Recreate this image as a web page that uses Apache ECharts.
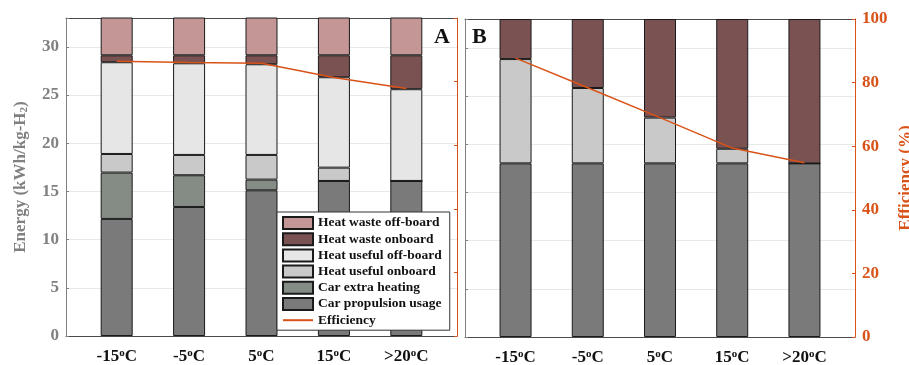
<!DOCTYPE html>
<html>
<head>
<meta charset="utf-8">
<script src="https://cdn.jsdelivr.net/npm/echarts@6/dist/echarts.min.js"></script>
<style>
html,body{margin:0;padding:0;background:#fff;}
#chart{width:909px;height:365px;}
</style>
</head>
<body>
<div id="chart"></div>
<script>
// ---------- data ----------
const categories = ['-15°C', '-5°C', '5°C', '15°C', '>20°C'];
const energyTicks = [0, 5, 10, 15, 20, 25, 30];
const efficiencyTicks = [0, 20, 40, 60, 80, 100];

// Panel A (kWh/kg-H2), stacked from bottom to top
const aPropulsion   = [12.15, 13.39, 15.12, 16.09, 16.09];
const aExtraHeating = [4.81, 3.29, 1.11, 0, 0];
const aUsefulOn     = [1.93, 2.11, 2.56, 1.38, 0];
const aUsefulOff    = [9.52, 9.51, 9.41, 9.38, 9.52];
const aWasteOn      = [0.72, 0.83, 0.93, 2.28, 3.52];
const aWasteOff     = [4.17, 4.17, 4.17, 4.17, 4.17];
const aEfficiency   = [86.4, 86.0, 85.8, 81.3, 77.8];

// Panel B (%), stacked from bottom to top
const bPropulsion   = [54.6, 54.6, 54.6, 54.6, 54.6];
const bUsefulOn     = [32.8, 23.7, 14.4, 4.6, 0];
const bWasteOn      = [12.6, 21.7, 31.0, 40.8, 45.4];
const bEfficiency   = [87.7, 78.4, 69.0, 59.4, 54.8];

// ---------- layout & styles ----------
const FONT = '"Liberation Serif", "Times New Roman", serif';
const ORANGE = '#D95319';
const GRAYAX = '#808080';
const DARKAX = '#4a4a4a';
const colors = {
  'Heat waste off-board': '#c49696',
  'Heat waste onboard': '#7b5252',
  'Heat useful off-board': '#e6e6e6',
  'Heat useful onboard': '#c9c9c9',
  'Car extra heating': '#858c85',
  'Car propulsion usage': '#7a7a7a'
};
const X_MIN = 0.3, X_MAX = 5.7;
const positions = categories.map((c, i) => i + 1);
const frames = [
  { left: 66, top: 18, width: 391, height: 318, outerBoundsMode: 'none', containLabel: false },
  { left: 465, top: 19, width: 390, height: 318, outerBoundsMode: 'none', containLabel: false }
];
// inner grid holding the category bands (band i centred on position i+1)
function bandGrid(f) {
  const unit = f.width / (X_MAX - X_MIN);
  return {
    left: f.left + (0.5 - X_MIN) * unit, top: f.top, width: categories.length * unit, height: f.height,
    outerBoundsMode: 'none', containLabel: false
  };
}

function xFrame(gi, pos, showLabels) {
  return {
    type: 'value', gridIndex: gi, position: pos, min: X_MIN, max: X_MAX,
    axisLine: { show: true, onZero: false, lineStyle: { color: DARKAX, width: 1 } },
    axisTick: { show: true, inside: true, length: 3, customValues: positions, lineStyle: { color: DARKAX } },
    axisLabel: {
      show: showLabels, customValues: positions, margin: 12,
      formatter: v => {
        const c = categories[Math.round(v) - 1] || '';
        return '{m|' + c.replace('°', '}{s|o}{m|') + '}';
      },
      rich: {
        m: { fontFamily: FONT, fontWeight: 'bold', fontSize: 17, color: '#111', lineHeight: 18 },
        s: { fontFamily: FONT, fontWeight: 'bold', fontSize: 11, color: '#111', verticalAlign: 'top', lineHeight: 18 }
      }
    },
    splitLine: { show: false }
  };
}
function xBands(gi) {
  return { type: 'category', gridIndex: gi, data: categories, boundaryGap: true, show: false };
}
function energyAxis(gi, showLabels) {
  return {
    type: 'value', gridIndex: gi, position: 'left', min: 0, max: 33, interval: 5,
    name: showLabels ? 'Energy (kWh/kg-H{sub|2})' : '',
    nameLocation: 'middle', nameGap: 36,
    nameTextStyle: {
      fontFamily: FONT, fontWeight: 'bold', fontSize: 17, color: GRAYAX,
      rich: { sub: { fontFamily: FONT, fontWeight: 'bold', fontSize: 11, color: GRAYAX, verticalAlign: 'bottom', padding: [8, 0, 0, 0] } }
    },
    axisLine: { show: true, onZero: false, lineStyle: { color: GRAYAX, width: 1 } },
    axisTick: { show: true, inside: true, length: 3, lineStyle: { color: GRAYAX } },
    axisLabel: {
      show: showLabels, margin: 7, customValues: energyTicks,
      fontFamily: FONT, fontWeight: 'bold', fontSize: 17, color: GRAYAX
    },
    splitLine: { show: true, lineStyle: { color: '#e8e8e8', width: 1 } }
  };
}
function effAxis(gi, showLabels) {
  return {
    type: 'value', gridIndex: gi, position: 'right', min: 0, max: 100, interval: 20,
    name: showLabels ? 'Efficiency (%)' : '',
    nameLocation: 'middle', nameGap: 42,
    nameTextStyle: { fontFamily: FONT, fontWeight: 'bold', fontSize: 17, color: ORANGE },
    axisLine: { show: true, onZero: false, lineStyle: { color: ORANGE, width: 1 } },
    axisTick: { show: true, inside: true, length: 3, lineStyle: { color: ORANGE } },
    axisLabel: {
      show: showLabels, margin: 7, customValues: efficiencyTicks,
      fontFamily: FONT, fontWeight: 'bold', fontSize: 17, color: ORANGE
    },
    splitLine: { show: false }
  };
}
function hiddenY(gi, max) {
  return { type: 'value', gridIndex: gi, min: 0, max: max, show: false, splitLine: { show: false } };
}
function bar(name, arr, xi, yi, stack) {
  return {
    type: 'bar', name, data: arr, xAxisIndex: xi, yAxisIndex: yi, stack,
    barWidth: 32, clip: true,
    itemStyle: { color: colors[name], borderColor: '#1a1a1a', borderWidth: 1 },
    emphasis: { disabled: true }
  };
}
function effLine(arr, xi, yi) {
  return {
    type: 'line', name: 'Efficiency', data: arr, xAxisIndex: xi, yAxisIndex: yi,
    symbol: 'none', z: 5,
    lineStyle: { color: ORANGE, width: 1.5 }, itemStyle: { color: ORANGE },
    emphasis: { disabled: true }
  };
}

const legendBars = ['Heat waste off-board', 'Heat waste onboard', 'Heat useful off-board',
                    'Heat useful onboard', 'Car extra heating', 'Car propulsion usage'];

const option = {
  animation: false,
  backgroundColor: '#fff',
  grid: [frames[0], bandGrid(frames[0]), frames[1], bandGrid(frames[1])],
  xAxis: [
    xFrame(0, 'bottom', true), xFrame(0, 'top', false), xBands(1),
    xFrame(2, 'bottom', true), xFrame(2, 'top', false), xBands(3)
  ],
  yAxis: [
    energyAxis(0, true), effAxis(0, false), hiddenY(1, 33), hiddenY(1, 100),
    energyAxis(2, false), effAxis(2, true), hiddenY(3, 100)
  ],
  legend: {
    orient: 'vertical', left: 277, top: 212,
    padding: [4, 8, 3, 5],
    backgroundColor: '#fff', borderColor: '#333', borderWidth: 1,
    itemWidth: 30, itemHeight: 12, itemGap: 2.2,
    textStyle: { fontFamily: FONT, fontWeight: 'bold', fontSize: 13.5, color: '#111' },
    data: legendBars.map(n => ({ name: n, icon: 'rect' }))
      .concat([{ name: 'Efficiency', itemStyle: { opacity: 0 } }])
  },
  graphic: [
    { type: 'text', left: 434, top: 26, style: { text: 'A', font: 'bold 22px ' + FONT, fill: '#111' } },
    { type: 'text', left: 472, top: 26, style: { text: 'B', font: 'bold 22px ' + FONT, fill: '#111' } }
  ],
  series: [
    bar('Car propulsion usage', aPropulsion, 2, 2, 'A'),
    bar('Car extra heating', aExtraHeating, 2, 2, 'A'),
    bar('Heat useful onboard', aUsefulOn, 2, 2, 'A'),
    bar('Heat useful off-board', aUsefulOff, 2, 2, 'A'),
    bar('Heat waste onboard', aWasteOn, 2, 2, 'A'),
    bar('Heat waste off-board', aWasteOff, 2, 2, 'A'),
    effLine(aEfficiency, 2, 3),
    bar('Car propulsion usage', bPropulsion, 5, 6, 'B'),
    bar('Heat useful onboard', bUsefulOn, 5, 6, 'B'),
    bar('Heat waste onboard', bWasteOn, 5, 6, 'B'),
    effLine(bEfficiency, 5, 6)
  ]
};
const chart = echarts.init(document.getElementById('chart'), null, { renderer: 'canvas' });
chart.setOption(option);
</script>
</body>
</html>
